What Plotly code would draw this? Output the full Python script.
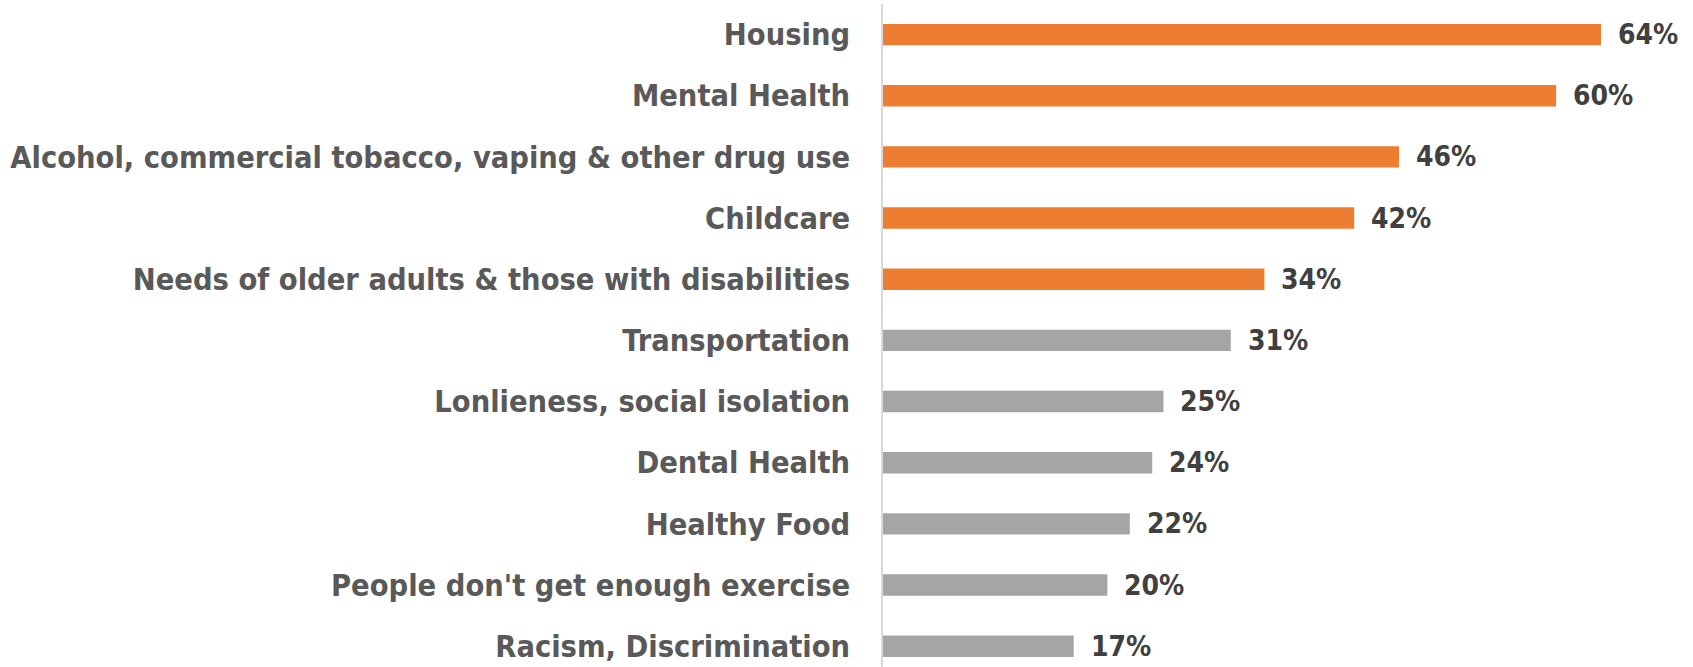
import plotly.graph_objects as go

categories = ["Housing", "Mental Health", "Alcohol, commercial tobacco, vaping & other drug use",
              "Childcare", "Needs of older adults & those with disabilities", "Transportation",
              "Lonlieness, social isolation", "Dental Health", "Healthy Food",
              "People don't get enough exercise", "Racism, Discrimination"]
values = [64, 60, 46, 42, 34, 31, 25, 24, 22, 20, 17]
highlight = [True, True, True, True, True, False, False, False, False, False, False]

ORANGE = "#ED7D31"
GRAY = "#A5A5A5"
colors = [ORANGE if h else GRAY for h in highlight]

FONT = "DejaVu Sans Condensed"

fig = go.Figure()
fig.add_trace(go.Bar(
    x=values, y=categories, orientation="h",
    marker=dict(color=colors, line=dict(width=0)),
    hoverinfo="skip",
))

for c, v in zip(categories, values):
    fig.add_annotation(x=v, y=c, text=f"<b>{v}%</b>", showarrow=False,
                       xanchor="left", yanchor="middle", xshift=15,
                       font=dict(family=FONT, size=28, color="#404040"))

fig.update_layout(
    width=1693, height=667,
    margin=dict(l=883, r=0, t=4, b=0),
    plot_bgcolor="white", paper_bgcolor="white",
    bargap=0.65,
    showlegend=False,
    xaxis=dict(range=[0, 72.2], visible=False, fixedrange=True, automargin=False),
    yaxis=dict(range=[10.34, -0.5], showline=True, linecolor="#D9D9D9", linewidth=1.5,
               ticks="", ticklabelstandoff=25, automargin=False,
               tickfont=dict(family=FONT, size=30.5, color="#595959"),
               showgrid=False, zeroline=False),
)
fig.update_yaxes(tickprefix="<b>", ticksuffix="</b>")

fig.write_html("out.html", config={"displayModeBar": False},
               post_script="document.body.style.margin='0';")
